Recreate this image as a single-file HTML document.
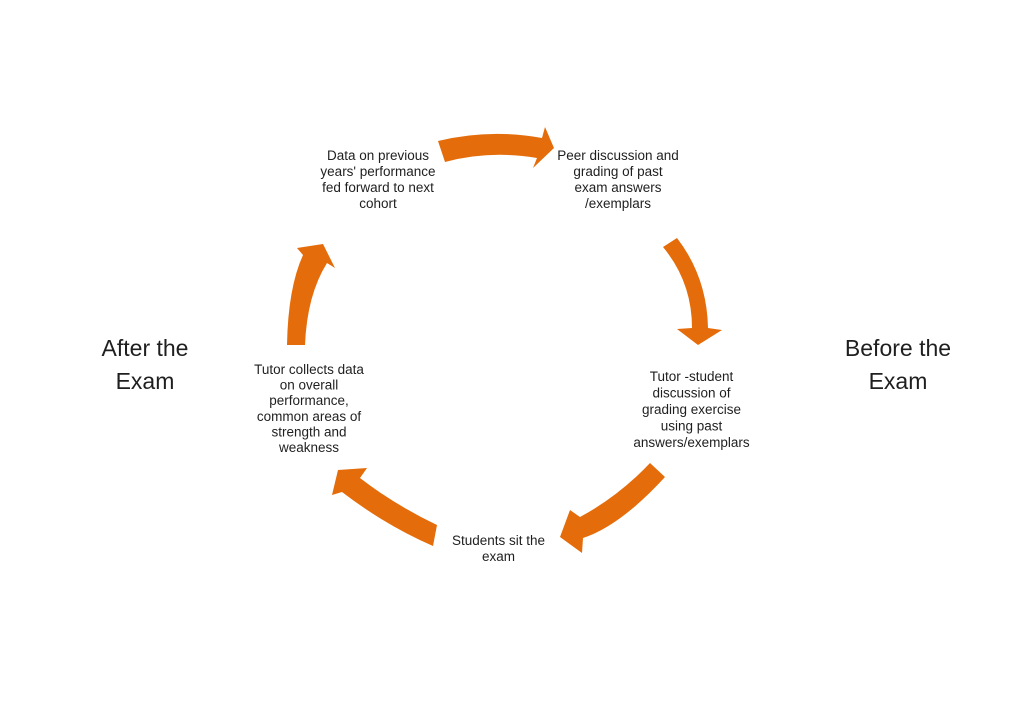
<!DOCTYPE html>
<html>
<head>
<meta charset="utf-8">
<style>
  html, body { margin:0; padding:0; background:#ffffff; }
  body { width:1024px; height:724px; overflow:hidden; }
  svg { display:block; }
  text { font-family: "Liberation Sans", Arial, sans-serif; fill:#1f1f1f; }
  .s { font-size:13.5px; }
  .b { font-size:23px; }
</style>
</head>
<body>
<svg width="1024" height="724" viewBox="0 0 1024 724" xmlns="http://www.w3.org/2000/svg">
  <rect width="1024" height="724" fill="#ffffff"/>
  <g fill="#E46C0A">
    <!-- top arrow -->
    <path d="M438,141 Q490,128.5 542,138 L545,127 L554,148 L533,168 L537,158 Q490,150 445,162 Z"/>
    <!-- right arrow -->
    <path d="M663,247 Q692,282 692,328 L677,329 L698,345 L722,330 L708,328 Q707,277 677,238 Z"/>
    <!-- bottom-right arrow -->
    <path d="M650,463 Q619,496 580,517 L570,510 L560,537 L582,553 L583,538 Q620,526 665,477 Z"/>
    <!-- bottom-left arrow -->
    <path d="M437,525 Q395,505 360,478 L367,468 L338,470 L332,495 L342,492 Q385,525 433,546 Z"/>
    <!-- left arrow -->
    <path d="M287,345 Q288,288 303,255 L297,248 L323,244 L335,268 L327,263 Q307,295 305,345 Z"/>
  </g>

  <g class="s" text-anchor="middle">
    <text x="378" y="160">Data on previous</text>
    <text x="378" y="176">years' performance</text>
    <text x="378" y="192">fed forward to next</text>
    <text x="378" y="208">cohort</text>

    <text x="618" y="160">Peer discussion and</text>
    <text x="618" y="176">grading of past</text>
    <text x="618" y="192">exam answers</text>
    <text x="618" y="208">/exemplars</text>

    <text x="691.5" y="381">Tutor -student</text>
    <text x="691.5" y="397.5">discussion of</text>
    <text x="691.5" y="414">grading  exercise</text>
    <text x="691.5" y="430.5">using past</text>
    <text x="691.5" y="447">answers/exemplars</text>

    <text x="498.5" y="545">Students sit the</text>
    <text x="498.5" y="561">exam</text>

    <text x="309" y="374">Tutor collects data</text>
    <text x="309" y="389.6">on overall</text>
    <text x="309" y="405.2">performance,</text>
    <text x="309" y="420.8">common areas of</text>
    <text x="309" y="436.4">strength and</text>
    <text x="309" y="452">weakness</text>
  </g>

  <g class="b" text-anchor="middle">
    <text x="145" y="356">After the</text>
    <text x="145" y="389">Exam</text>
    <text x="898" y="356">Before the</text>
    <text x="898" y="389">Exam</text>
  </g>
</svg>
</body>
</html>
